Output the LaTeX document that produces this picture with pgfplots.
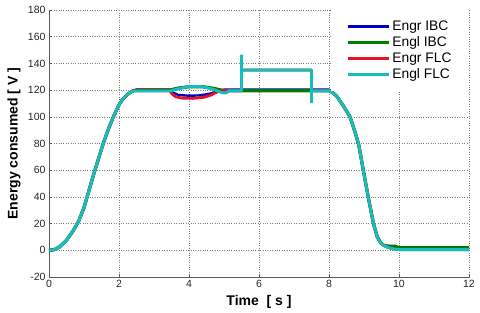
\documentclass[border=0pt]{standalone}
\usepackage{fontspec}
\setmainfont{Liberation Sans}
\usepackage{pgfplots}
\pgfplotsset{compat=1.18}
\definecolor{cBlue}{RGB}{0,0,205}
\definecolor{cGreen}{RGB}{0,125,0}
\definecolor{cRed}{RGB}{230,20,30}
\definecolor{cCyan}{RGB}{20,190,190}
\begin{document}
\begin{tikzpicture}
\begin{axis}[
  name=ax,
  scale only axis, width=420pt, height=267pt,
  xmin=0, xmax=12, ymin=-20, ymax=180,
  xtick={0,2,...,12}, ytick={-20,0,...,180},
  axis x line=bottom, axis y line=left,
  axis line style={-, draw=black!65, line width=0.6pt},
  tick align=inside, major tick length=3pt,
  tick style={black!65, line width=0.5pt},
  grid=major,
  major grid style={dotted, black!50, line width=0.5pt},
  /pgf/number format/assume math mode=true,
  ticklabel style={font=\fontsize{10.5}{12}\selectfont, text=black!85},
  xlabel={\textbf{Time\ \ [ s ]}},
  ylabel={\textbf{Energy consumed [ V ]}},
  label style={font=\fontsize{14}{16}\selectfont},
  xlabel style={at={(axis description cs:0.5,-0.0936)}, anchor=center},
  ylabel style={at={(axis description cs:-0.0833,0.5)}, anchor=center},
  legend style={at={(rel axis cs:1,1)}, anchor=north east, draw=none, fill=white,
    font=\fontsize{13.8}{15}\selectfont, inner xsep=16pt, inner ysep=9.5pt,
    row sep=2.1pt, nodes={inner sep=1.3pt}},
  legend cell align=left,
  legend image code/.code={\draw[#1] (0pt,0pt) -- (41pt,0pt);},
  line join=bevel,
]
\addplot[cBlue, line width=2.4pt] coordinates {
(0,0) (0.15,0.5) (0.3,2.5) (0.5,7.5) (0.7,15) (0.85,22) (1.0,32) (1.1,41) (1.3,59) (1.55,80) (1.7,91) (1.84,100) (2.0,109) (2.1,113) (2.25,117) (2.4,119.5)
(2.5,120.3) (3.45,120.3) (3.55,118) (3.7,116.3) (4.0,115.8) (4.3,116) (4.6,117.3) (4.85,119.5) (5.0,120.3) (8.0,120.3)
(8.08,118.5) (8.2,116) (8.3,112.5) (8.45,106.5) (8.6,100) (8.75,88) (8.85,79) (8.98,60) (9.12,40) (9.27,20) (9.38,10) (9.48,5.5) (9.58,3.5)
(9.7,3.1) (9.9,3) (10.0,1.8) (12,1.8)
};
\addlegendentry{Engr IBC}
\addplot[cGreen, line width=3.3pt] coordinates {
(0,0) (0.15,0.5) (0.3,2.5) (0.5,7.5) (0.7,15) (0.85,22) (1.0,32) (1.1,41) (1.3,59) (1.55,80) (1.7,91) (1.84,100) (2.0,109) (2.1,113) (2.25,117) (2.4,119.5)
(2.5,120) (3.45,120) (3.7,121.5) (4.0,122.5) (4.4,122.5) (4.7,121.3) (5.0,119.5) (8.0,119.5)
(8.08,118.5) (8.2,116) (8.3,112.5) (8.45,106.5) (8.6,100) (8.75,88) (8.85,79) (8.98,60) (9.12,40) (9.27,20) (9.38,10) (9.48,5.5) (9.58,3.5)
(9.7,3.1) (9.9,3) (10.0,1.8) (12,1.8)
};
\addlegendentry{Engl IBC}
\addplot[cRed, line width=2.8pt] coordinates {
(0,0) (0.15,0.5) (0.3,2.5) (0.5,7.5) (0.7,15) (0.85,22) (1.0,32) (1.1,41) (1.3,59) (1.55,80) (1.7,91) (1.84,100) (2.0,109) (2.1,113) (2.25,117) (2.4,119.5)
(2.5,119.5) (3.45,119.5) (3.52,117) (3.62,115) (3.8,114) (4.1,113.8) (4.4,114.5) (4.6,116) (4.8,118.5) (4.95,119.5) (5.5,119.5) (5.5,135) (7.5,135) (7.5,119.5) (8.0,119.5)
(8.08,118.5) (8.2,116) (8.3,112.5) (8.45,106.5) (8.6,100) (8.75,88) (8.85,79) (8.98,60) (9.12,40) (9.27,20) (9.38,10) (9.48,5.5) (9.58,3.5)
(9.7,2) (9.85,1) (10.0,0.5) (12,0.5)
};
\addlegendentry{Engr FLC}
\addplot[cCyan, line width=2.9pt] coordinates {
(0,0) (0.15,0.5) (0.3,2.5) (0.5,7.5) (0.7,15) (0.85,22) (1.0,32) (1.1,41) (1.3,59) (1.55,80) (1.7,91) (1.84,100) (2.0,109) (2.1,113) (2.25,117) (2.4,119.3)
(2.5,119.3) (3.45,119.3) (3.7,121) (4.0,122.8) (4.4,122.5) (4.7,120.5) (4.95,118) (5.05,117.8) (5.15,119.5) (5.5,119.5) (5.5,146.5) (5.5,135) (7.5,135) (7.5,110.5) (7.5,119.5) (8.0,119.5)
(8.08,118.5) (8.2,116) (8.3,112.5) (8.45,106.5) (8.6,100) (8.75,88) (8.85,79) (8.98,60) (9.12,40) (9.27,20) (9.38,10) (9.48,5.5) (9.58,3.5)
(9.7,2) (9.85,1) (10.0,0.5) (12,0.5)
};
\addlegendentry{Engl FLC}
\end{axis}
\pgfresetboundingbox
\path ([shift={(-49pt,-36pt)}]ax.south west) rectangle ([shift={(11pt,10pt)}]ax.north east);
\end{tikzpicture}
\end{document}
